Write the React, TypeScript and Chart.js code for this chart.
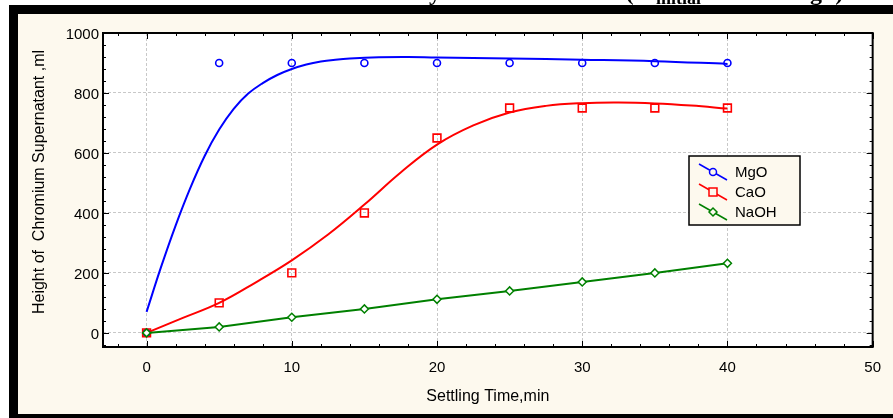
import { useEffect, useRef } from 'react';
import { Chart, registerables } from 'chart.js';
Chart.register(...registerables);

// ---- data ----
const legendLabels = ['MgO', 'CaO', 'NaOH'];
const timeMin = [0, 5, 10, 15, 20, 25, 30, 35, 40];
const mgoHeight = [0, 900, 900, 900, 900, 900, 900, 900, 900];
const caoHeight = [0, 100, 200, 400, 650, 750, 750, 750, 750];
const naohHeight = [0, 20, 52, 80, 112, 140, 170, 200, 232];

// fitted (smoothed) curves
const mgoFitTime = [0, 1, 2, 3, 4, 5, 6, 7, 8, 9, 10, 11, 12, 13, 14, 16, 18, 20, 25, 30, 35, 40];
const mgoFitHeight = [70, 220, 358, 482, 590, 678, 747, 798, 833, 860, 880, 895, 905, 911, 915, 919, 920, 918, 915, 911, 906, 897];
const caoFitTime = [0, 2.5, 5, 7.5, 10, 12.5, 15, 17.5, 20, 22.5, 25, 27.5, 30, 32.5, 35, 37.5, 40];
const caoFitHeight = [0, 50, 100, 168, 242, 328, 428, 535, 628, 692, 735, 757, 766, 768, 765, 758, 748];

const xTickValues = [0, 10, 20, 30, 40, 50];
const yTickValues = [0, 200, 400, 600, 800, 1000];
const xMinorStep = 2;
const yMinorStep = 40;

const xTitle = 'Settling Time,min';
const yTitle = 'Height of  Chromium Supernatant ,ml';

const W = 893;
const H = 418;
const FONT = '"Liberation Sans", Arial, sans-serif';
const SERIF = '"Liberation Serif", "Times New Roman", serif';
const CREAM = '#FDF9EE';
const BLUE = '#0000FF';
const RED = '#FF0000';
const GREEN = '#008000';

const toXY = (xs: number[], ys: number[]) => xs.map((x, i) => ({ x, y: ys[i] }));

const backgroundPlugin = {
  id: 'bgFrame',
  beforeDraw(chart: any) {
    const ctx = chart.ctx;
    const { left, top, right, bottom } = chart.chartArea;
    ctx.save();
    ctx.fillStyle = '#ffffff';
    ctx.fillRect(0, 0, W, H);
    // clipped title text (only descenders visible)
    ctx.fillStyle = '#000';
    ctx.textBaseline = 'alphabetic';
    ctx.font = `bold 24px ${SERIF}`;
    ctx.textAlign = 'right';
    ctx.fillText('Chromium Removal by', 441, 0);
    ctx.fillText('Alkali Addition (C', 651, 0);
    ctx.fillText('= 1000 m', 810, 0);
    ctx.textAlign = 'left';
    ctx.fillText('g/l)', 810, 0);
    ctx.font = `bold 18px ${SERIF}`;
    ctx.fillText('initial', 656, 4);
    // black band & cream panel
    ctx.fillStyle = '#000';
    ctx.fillRect(9, 5, W - 9, H - 5);
    ctx.fillStyle = CREAM;
    ctx.fillRect(18, 14, W - 18, 400);
    ctx.fillStyle = '#ffffff';
    ctx.fillRect(left, top, right - left, bottom - top);
    ctx.restore();
  },
};

const framePlugin = {
  id: 'frameTicks',
  afterDraw(chart: any) {
    const ctx = chart.ctx;
    const xa = chart.scales.x;
    const ya = chart.scales.y;
    const { left, top, right, bottom } = chart.chartArea;
    ctx.save();
    ctx.strokeStyle = '#000';
    ctx.lineWidth = 1;
    ctx.beginPath();
    for (let v = Math.ceil(xa.min / xMinorStep) * xMinorStep; v <= xa.max; v += xMinorStep) {
      const px = Math.round(xa.getPixelForValue(v)) + 0.5;
      const len = v % 10 === 0 ? 6 : 3;
      ctx.moveTo(px, bottom);
      ctx.lineTo(px, bottom - len);
      ctx.moveTo(px, top);
      ctx.lineTo(px, top + len);
    }
    for (let v = Math.ceil(ya.min / yMinorStep) * yMinorStep; v <= ya.max; v += yMinorStep) {
      const py = Math.round(ya.getPixelForValue(v)) + 0.5;
      const len = v % 200 === 0 ? 6 : 3;
      ctx.moveTo(left, py);
      ctx.lineTo(left + len, py);
      ctx.moveTo(right, py);
      ctx.lineTo(right - len, py);
    }
    ctx.stroke();
    ctx.lineWidth = 2;
    ctx.strokeRect(left, top, right - left, bottom - top);

    // y axis title
    ctx.save();
    ctx.translate(40, 182);
    ctx.rotate(-Math.PI / 2);
    ctx.font = `16px ${FONT}`;
    ctx.fillStyle = '#000';
    ctx.textAlign = 'center';
    ctx.textBaseline = 'middle';
    ctx.fillText(yTitle, 0, 0);
    ctx.restore();

    // legend
    const bx = 689, by = 156, bw = 111, bh = 69;
    ctx.fillStyle = CREAM;
    ctx.fillRect(bx, by, bw, bh);
    ctx.lineWidth = 1.5;
    ctx.strokeStyle = '#000';
    ctx.strokeRect(bx, by, bw, bh);
    const colors = [BLUE, RED, GREEN];
    const shapes = ['circle', 'rect', 'diamond'];
    ctx.font = `15px ${FONT}`;
    ctx.textBaseline = 'middle';
    ctx.textAlign = 'left';
    legendLabels.forEach((lab, i) => {
      const cy = 172 + i * 20;
      ctx.strokeStyle = colors[i];
      ctx.lineWidth = 1.5;
      ctx.beginPath();
      ctx.moveTo(699, cy - 8);
      ctx.lineTo(727, cy + 8);
      ctx.stroke();
      const mx = 713, my = cy;
      ctx.beginPath();
      if (shapes[i] === 'circle') ctx.arc(mx, my, 3.5, 0, Math.PI * 2);
      else if (shapes[i] === 'rect') ctx.rect(mx - 4, my - 4, 8, 8);
      else {
        ctx.moveTo(mx - 4, my);
        ctx.lineTo(mx, my - 4);
        ctx.lineTo(mx + 4, my);
        ctx.lineTo(mx, my + 4);
        ctx.closePath();
      }
      ctx.fillStyle = CREAM;
      ctx.fill();
      ctx.stroke();
      ctx.fillStyle = '#000';
      ctx.fillText(lab, 735, cy + 1);
    });
    ctx.restore();
  },
};

export default function App() {
  const ref = useRef<HTMLCanvasElement | null>(null);
  useEffect(() => {
    if (!ref.current) return;
    const chart = new Chart(ref.current, {
      type: 'line',
      data: {
        datasets: [
          {
            label: 'NaOH',
            data: toXY(timeMin, naohHeight),
            borderColor: GREEN,
            borderWidth: 2,
            pointStyle: 'rectRot',
            pointRadius: 4,
            pointBorderWidth: 1.5,
            pointBackgroundColor: '#ffffff',
            pointBorderColor: GREEN,
            tension: 0,
            order: 0,
          },
          {
            label: 'CaO',
            data: toXY(timeMin, caoHeight),
            showLine: false,
            pointStyle: 'rect',
            pointRadius: 5.5,
            pointBorderWidth: 1.6,
            pointBackgroundColor: 'rgba(0,0,0,0)',
            pointBorderColor: RED,
            borderColor: RED,
            order: 1,
          },
          {
            label: 'CaO fit',
            data: toXY(caoFitTime, caoFitHeight),
            borderColor: RED,
            borderWidth: 2,
            pointRadius: 0,
            tension: 0.4,
            order: 2,
          },
          {
            label: 'MgO',
            data: toXY(timeMin, mgoHeight),
            showLine: false,
            pointStyle: 'circle',
            pointRadius: 3.5,
            pointBorderWidth: 1.6,
            pointBackgroundColor: 'rgba(0,0,0,0)',
            pointBorderColor: BLUE,
            borderColor: BLUE,
            order: 3,
          },
          {
            label: 'MgO fit',
            data: toXY(mgoFitTime, mgoFitHeight),
            borderColor: BLUE,
            borderWidth: 2,
            pointRadius: 0,
            tension: 0.4,
            order: 4,
          },
        ],
      },
      options: {
        animation: false,
        responsive: false,
        maintainAspectRatio: false,
        layout: { padding: { left: 0, top: 33, right: 16, bottom: 0 } },
        plugins: { legend: { display: false }, tooltip: { enabled: false } },
        scales: {
          x: {
            type: 'linear',
            min: -3,
            max: 50,
            afterBuildTicks: (s: any) => {
              s.ticks = xTickValues.map((v) => ({ value: v }));
            },
            afterFit: (s: any) => {
              s.height = 71;
            },
            grid: { color: '#c8c8c8', lineWidth: 1, drawTicks: false },
            border: { display: false, dash: [3, 2] },
            ticks: {
              color: '#000',
              font: { size: 15, family: FONT },
              padding: 12,
              maxRotation: 0,
              autoSkip: false,
              callback: (v: any) => String(v),
            },
            title: {
              display: true,
              text: xTitle,
              color: '#000',
              font: { size: 16, family: FONT },
              padding: { top: 0, bottom: 12 },
            },
          },
          y: {
            type: 'linear',
            min: -47,
            max: 1000,
            afterBuildTicks: (s: any) => {
              s.ticks = yTickValues.map((v) => ({ value: v }));
            },
            afterFit: (s: any) => {
              s.width = 103;
            },
            grid: { color: '#c8c8c8', lineWidth: 1, drawTicks: false },
            border: { display: false, dash: [3, 2] },
            ticks: {
              color: '#000',
              font: { size: 15, family: FONT },
              padding: 4,
              labelOffset: 2,
              autoSkip: false,
              callback: (v: any) => String(v),
            },
            title: { display: false },
          },
        },
      },
      plugins: [backgroundPlugin, framePlugin],
    });
    return () => chart.destroy();
  }, []);
  return (
    <div style={{ position: 'fixed', left: 0, top: 0, width: W, height: H }}>
      <canvas ref={ref} width={W} height={H} style={{ width: W, height: H, display: 'block' }} />
    </div>
  );
}
